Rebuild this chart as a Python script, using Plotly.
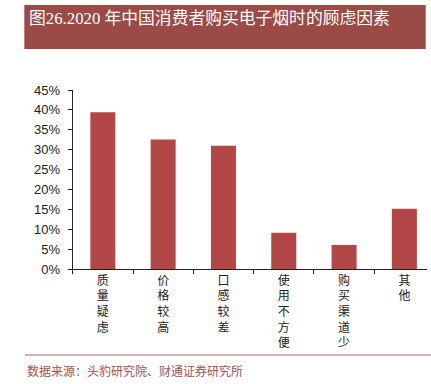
import plotly.graph_objects as go

categories = ["质量疑虑", "价格较高", "口感较差", "使用不方便", "购买渠道少", "其他"]
values = [39.4, 32.6, 31.0, 9.2, 6.1, 15.2]
y_ticks = [0, 5, 10, 15, 20, 25, 30, 35, 40, 45]

title_text = "图26.2020 年中国消费者购买电子烟时的顾虑因素"
source_text = "数据来源：头豹研究院、财通证券研究所"

W, H = 431, 384
BAR = "#B34747"
BANNER = "#9C4A46"
SRC = "#A3524E"

fig = go.Figure()
fig.add_trace(go.Bar(
    x=categories, y=values, width=0.415,
    marker=dict(color=BAR, line=dict(width=0)),
    hoverinfo="skip",
))

x0, x1 = 72.7, 426.7
y0, y1 = 269.3, 90

fig.update_layout(
    width=W, height=H,
    margin=dict(l=0, r=0, t=0, b=0, autoexpand=False),
    paper_bgcolor="white", plot_bgcolor="white",
    showlegend=False,
    font=dict(family="Liberation Sans, Noto Sans CJK SC", color="#222"),
    xaxis=dict(
        domain=[x0 / W, x1 / W],
        range=[-0.5, 5.37],
        automargin=False,
        type="category",
        tickmode="array",
        tickvals=categories,
        ticktext=["<br>".join(c) for c in categories],
        tickfont=dict(family="Noto Sans CJK SC", size=12, color="#222"),
        ticks="outside", ticklen=4, tickcolor="#222",
        tickson="boundaries",
        showline=True, linecolor="#222", linewidth=1,
        showgrid=False, zeroline=False,
    ),
    yaxis=dict(
        domain=[(H - y0) / H, (H - y1) / H],
        range=[0, 45],
        automargin=False,
        tickmode="array",
        tickvals=y_ticks,
        ticktext=[f"{v}%" for v in y_ticks],
        tickfont=dict(family="Liberation Sans", size=13, color="#222"),
        ticks="outside", ticklen=4, tickcolor="#222",
        ticklabelstandoff=5,
        showline=True, linecolor="#222", linewidth=1,
        showgrid=False, zeroline=False,
    ),
    shapes=[
        dict(type="rect", xref="paper", yref="paper",
             x0=24.3 / W, x1=425.7 / W, y0=(H - 49) / H, y1=(H - 5) / H,
             fillcolor=BANNER, line=dict(width=0), layer="below"),
        dict(type="line", xref="paper", yref="paper",
             x0=25 / W, x1=1, y0=(H - 355) / H, y1=(H - 355) / H,
             line=dict(color="#A86464", width=1)),
    ],
    annotations=[
        dict(text=title_text, xref="paper", yref="paper",
             x=27 / W, y=(H - 7) / H, xanchor="left", yanchor="top",
             showarrow=False,
             font=dict(family="Liberation Serif, Noto Sans CJK SC", size=16.8, color="white")),
        dict(text=source_text, xref="paper", yref="paper",
             x=25 / W, y=(H - 370) / H, xanchor="left", yanchor="middle",
             showarrow=False,
             font=dict(family="Noto Sans CJK SC", size=12, color=SRC)),
    ],
)

fig.write_html(
    "out.html",
    config={"displayModeBar": False, "staticPlot": True},
    post_script="document.body.style.margin='0';document.body.style.overflow='hidden';",
)
